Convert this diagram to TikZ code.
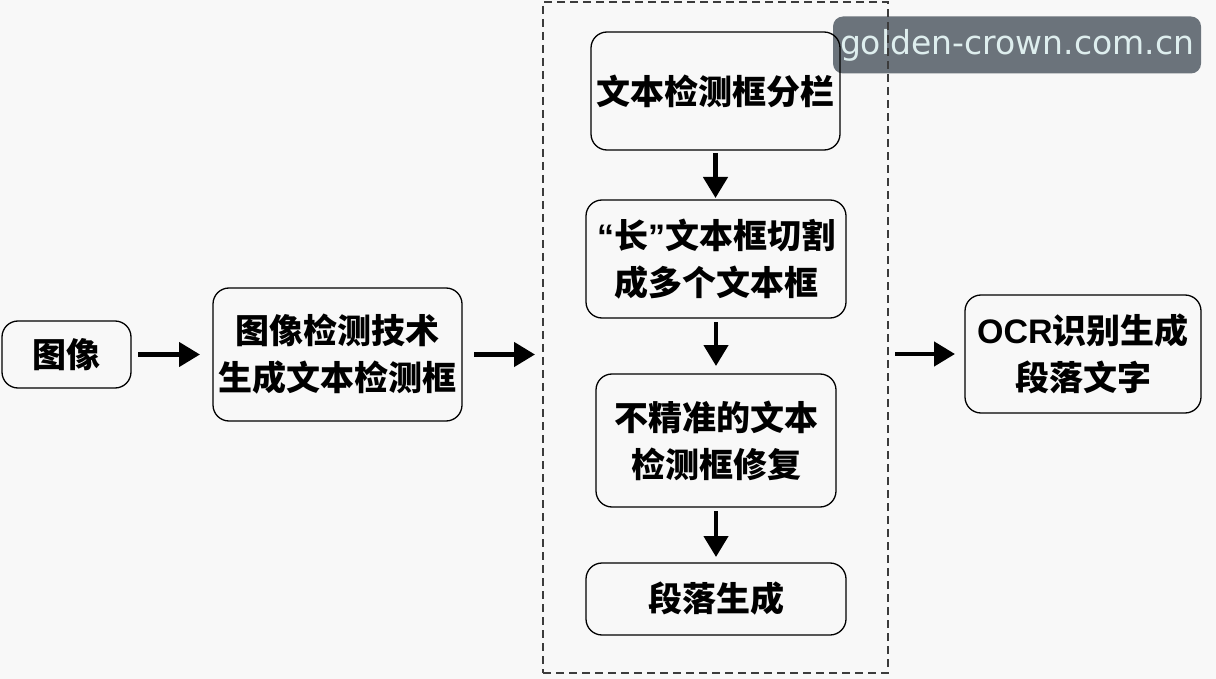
\documentclass[tikz,border=0pt]{standalone}
\usepackage{fontspec}
\usetikzlibrary{arrows.meta}
\newfontfamily\cjk{Noto Sans CJK SC}
\newfontfamily\lat{Liberation Sans}
\newfontfamily\wmfont{DejaVu Sans}
\definecolor{bgc}{RGB}{248,248,248}
\definecolor{wmfill}{RGB}{107,115,123}
\definecolor{wmtext}{RGB}{222,238,238}
\definecolor{dashc}{RGB}{60,60,60}
\tikzset{
  box/.style={draw=black, line width=1.3pt, rounded corners=16pt,
    inner sep=0pt, outer sep=0pt, align=center,
    font=\cjk\bfseries\fontsize{34}{47}\selectfont},
  arr/.style={line width=4.5pt, -{Triangle[length=21pt,width=24pt]}},
  grp/.style={draw=dashc, line width=1.2pt, dash pattern=on 8pt off 5pt,
    inner sep=0pt, outer sep=0pt}
}
\begin{document}
\begin{tikzpicture}[x=1pt,y=-1pt]
\useasboundingbox[fill=bgc] (0,0) rectangle (1216,679);
% watermark (lines of the diagram run over it)
\node[fill=wmfill, rounded corners=10pt, minimum width=368pt, minimum height=57pt,
  inner sep=0pt, text=wmtext, font=\wmfont\fontsize{33}{36}\selectfont] (wm) at (1017,45) {golden-crown.com.cn};
% dashed group
\node[grp, minimum width=345pt, minimum height=671pt] (group) at (715.5,337.5) {};
% nodes
\node[box, minimum width=129pt, minimum height=67pt] (img) at (66.5,354.5) {图像};
\node[box, minimum width=249pt, minimum height=133pt] (det) at (337.5,354.5) {图像检测技术\\生成文本检测框};
\node[box, minimum width=249pt, minimum height=118pt] (b1) at (715.5,91) {文本检测框分栏};
\node[box, minimum width=260pt, minimum height=118pt] (b2) at (716,259) {{\lat\bfseries “}长{\lat\bfseries ”}文本框切割\\成多个文本框};
\node[box, minimum width=240pt, minimum height=133pt] (b3) at (716,440.5) {不精准的文本\\检测框修复};
\node[box, minimum width=260pt, minimum height=72pt] (b4) at (716,599) {段落生成};
\node[box, minimum width=236pt, minimum height=118pt] (ocr) at (1083,354) {{\lat\bfseries OCR}识别生成\\段落文字};
% connectors
\draw[arr, shorten <=7pt, shorten >=13pt] (img.east) -- (det.west);
\draw[arr, shorten <=12pt, shorten >=8pt] (det.east) -- (det.east -| group.west);
\draw[arr, shorten <=7pt, shorten >=10pt] (ocr.west -| group.east) -- (ocr.west);
\draw[arr, shorten <=3pt, shorten >=2pt] (b1.south) -- (b1.south |- b2.north);
\draw[arr, shorten <=4pt, shorten >=8pt] (b2.south) -- (b2.south |- b3.north);
\draw[arr, shorten <=4pt, shorten >=6pt] (b3.south) -- (b3.south |- b4.north);
\end{tikzpicture}
\end{document}
